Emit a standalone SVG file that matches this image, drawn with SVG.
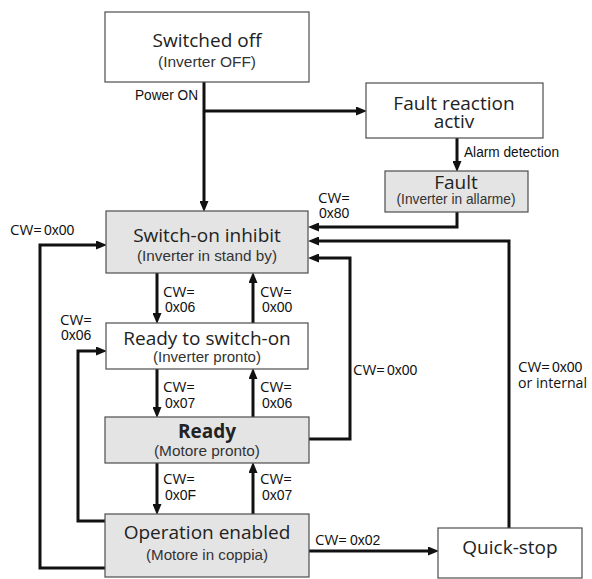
<svg xmlns="http://www.w3.org/2000/svg" width="592" height="579" viewBox="0 0 592 579">
  <style>
    .box { stroke: #4d4d4d; stroke-width: 1.2; }
    .white { fill: #ffffff; }
    .grey { fill: #e4e4e4; }
    .title { font-family: "Open Sans", "Noto Sans", sans-serif; font-size: 19px; fill: #222; text-anchor: middle; }
    .sub { font-family: "Liberation Sans", "Arial", sans-serif; font-size: 14.5px; fill: #333; text-anchor: middle; }
    .lbl { font-family: "Open Sans", "Noto Sans", sans-serif; font-size: 15px; fill: #111; }
    .num { font-family: "Liberation Sans", "Arial", sans-serif; font-size: 14px; fill: #111; }
    .wire-a { fill: none; stroke: #111; stroke-width: 3; marker-end: url(#head); }
  </style>
  <defs>
    <marker id="head" markerUnits="userSpaceOnUse" markerWidth="11" markerHeight="9" refX="6" refY="4.5" orient="auto">
      <path d="M0,0 L11,4.5 L0,9 Z" fill="#111"/>
    </marker>
  </defs>

  <rect width="592" height="579" fill="#ffffff"/>

  <!-- connectors -->
  <g id="connectors">
    <path class="wire-a" d="M204,82 V207"/>
    <path class="wire-a" d="M204,111 H362"/>
    <path class="wire-a" d="M457,138 V167"/>
    <path class="wire-a" d="M457,212 V227 H313"/>
    <path class="wire-a" d="M509,528 V241 H313"/>
    <path class="wire-a" d="M309,439 H350 V258 H313"/>
    <path class="wire-a" d="M157,273 V319"/>
    <path class="wire-a" d="M253,323 V277"/>
    <path class="wire-a" d="M157,369 V413"/>
    <path class="wire-a" d="M253,417 V373"/>
    <path class="wire-a" d="M157,463 V510"/>
    <path class="wire-a" d="M253,514 V467"/>
    <path class="wire-a" d="M309,551 H434"/>
    <path class="wire-a" d="M105,568 H40 V245 H102"/>
    <path class="wire-a" d="M105,521 H78 V351 H102"/>
  </g>

  <!-- connector labels -->
  <g id="labels">
    <text class="num" x="135" y="100" font-size="13.5" textLength="63" lengthAdjust="spacingAndGlyphs">Power ON</text>
    <text class="num" x="464" y="157" font-size="13.5" textLength="95" lengthAdjust="spacingAndGlyphs">Alarm detection</text>
    <text class="lbl" x="318" y="203">CW=</text>
    <text class="num" x="319" y="218">0x80</text>
    <text x="10" y="235"><tspan class="lbl">CW=</tspan><tspan class="num" dx="2">0x00</tspan></text>
    <text class="lbl" x="60" y="325">CW=</text>
    <text class="num" x="61" y="340">0x06</text>
    <text class="lbl" x="163" y="297">CW=</text>
    <text class="num" x="165" y="312">0x06</text>
    <text class="lbl" x="260" y="297">CW=</text>
    <text class="num" x="262" y="312">0x00</text>
    <text class="lbl" x="163" y="392">CW=</text>
    <text class="num" x="165" y="408">0x07</text>
    <text class="lbl" x="260" y="392">CW=</text>
    <text class="num" x="262" y="408">0x06</text>
    <text class="lbl" x="163" y="484">CW=</text>
    <text class="num" x="165" y="500">0x0F</text>
    <text class="lbl" x="260" y="484">CW=</text>
    <text class="num" x="262" y="500">0x07</text>
    <text x="353" y="375"><tspan class="lbl">CW=</tspan><tspan class="num" dx="2">0x00</tspan></text>
    <text x="518" y="372"><tspan class="lbl">CW=</tspan><tspan class="num" dx="2">0x00</tspan></text>
    <text class="lbl" x="518" y="388" font-size="14.5" textLength="69" lengthAdjust="spacingAndGlyphs">or internal</text>
    <text x="315" y="545"><tspan class="lbl">CW=</tspan><tspan class="num" dx="3">0x02</tspan></text>
  </g>

  <!-- states -->
  <g id="switched-off">
    <rect class="box white" x="105" y="12" width="204" height="70"/>
    <text class="title" x="207" y="47">Switched off</text>
    <text class="sub" x="207" y="67" textLength="98" lengthAdjust="spacingAndGlyphs">(Inverter OFF)</text>
  </g>
  <g id="fault-reaction">
    <rect class="box white" x="366" y="83" width="177" height="55"/>
    <text class="title" x="454" y="110">Fault reaction</text>
    <text class="title" x="454" y="128">activ</text>
  </g>
  <g id="fault">
    <rect class="box grey" x="385" y="171" width="143" height="41"/>
    <text class="title" x="456" y="189">Fault</text>
    <text class="sub" x="456" y="204" textLength="119" lengthAdjust="spacingAndGlyphs">(Inverter in allarme)</text>
  </g>
  <g id="switch-on-inhibit">
    <rect class="box grey" x="106" y="211" width="202" height="62"/>
    <text class="title" x="207" y="242">Switch-on inhibit</text>
    <text class="sub" x="207" y="261" textLength="140" lengthAdjust="spacingAndGlyphs">(Inverter in stand by)</text>
  </g>
  <g id="ready-to-switch-on">
    <rect class="box white" x="106" y="323" width="202" height="46"/>
    <text class="title" x="207" y="345">Ready to switch-on</text>
    <text class="sub" x="207" y="362" textLength="108" lengthAdjust="spacingAndGlyphs">(Inverter pronto)</text>
  </g>
  <g id="ready">
    <rect class="box grey" x="105" y="417" width="204" height="46"/>
    <text class="title" x="207" y="438" font-weight="bold">Ready</text>
    <text class="sub" x="207" y="456" textLength="106" lengthAdjust="spacingAndGlyphs">(Motore pronto)</text>
  </g>
  <g id="operation-enabled">
    <rect class="box grey" x="105" y="514" width="204" height="63"/>
    <text class="title" x="207" y="539">Operation enabled</text>
    <text class="sub" x="207" y="560" textLength="122" lengthAdjust="spacingAndGlyphs">(Motore in coppia)</text>
  </g>
  <g id="quick-stop">
    <rect class="box white" x="438" y="528" width="144" height="50"/>
    <text class="title" x="510" y="554">Quick-stop</text>
  </g>
</svg>
